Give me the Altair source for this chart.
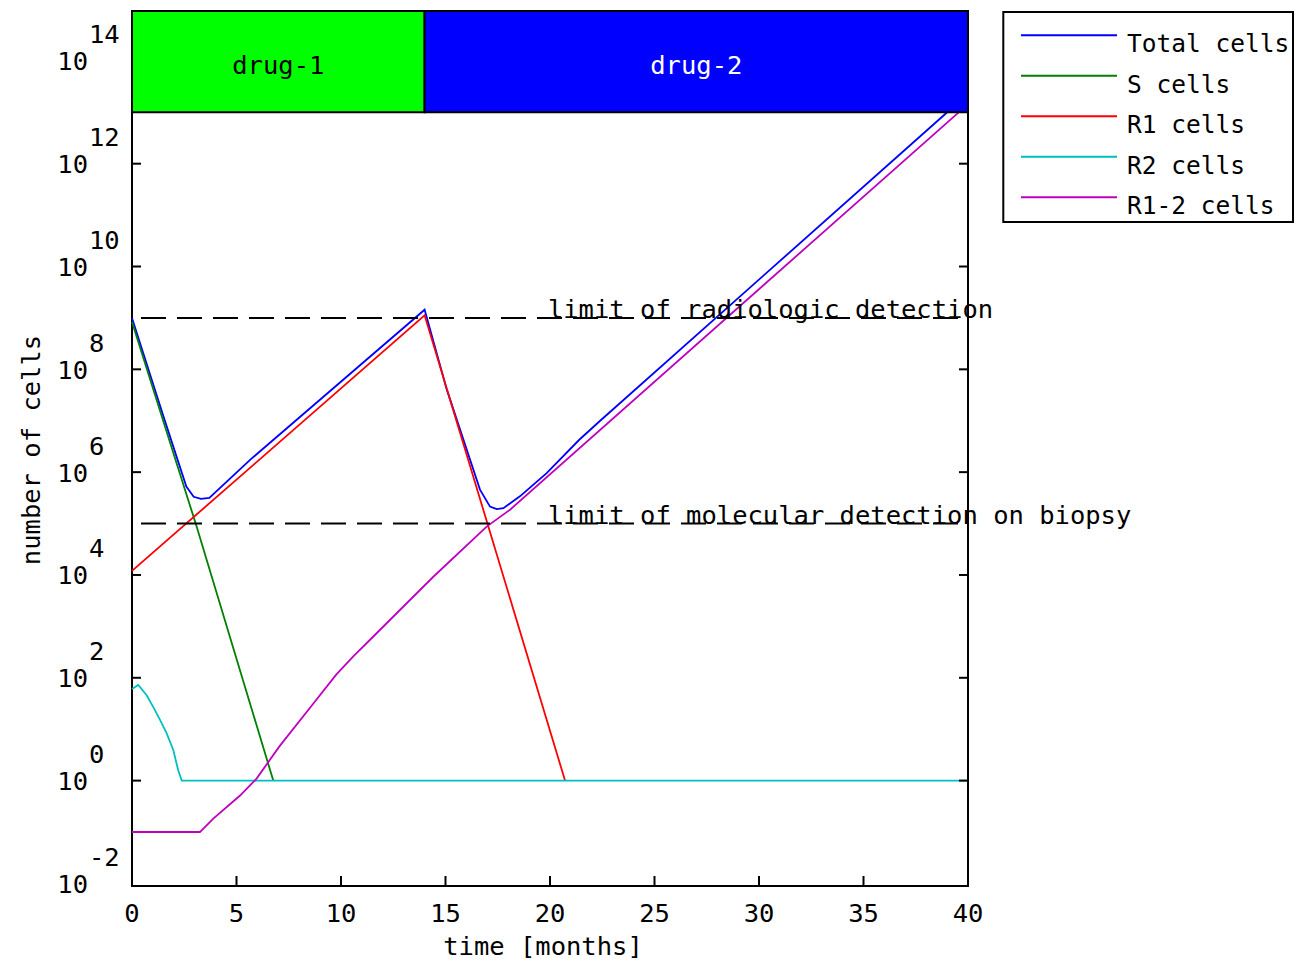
import altair as alt
import pandas as pd

FONT = "DejaVu Sans Mono"
FS = 25.5
FS_LEG = 24.5

series_names = ["Total cells", "S cells", "R1 cells", "R2 cells", "R1-2 cells"]
series_colors = ["#0000ff", "#008000", "#ff0000", "#00bfbf", "#bf00bf"]

# time [months] and log10(number of cells)
total_t = [0, 1.5, 2.6, 2.95, 3.3, 3.7, 5.65, 14.0, 15.06, 16.65, 17.13, 17.45, 17.77, 18.56, 19.84, 21.4, 22.4, 38.98, 40]
total_e = [9.0, 7.09, 5.72, 5.52, 5.48, 5.5, 6.24, 9.16, 7.61, 5.66, 5.33, 5.28, 5.30, 5.53, 5.98, 6.63, 7.0, 12.99, 13.36]
s_t = [0, 3.07, 6.76]
s_e = [8.92, 4.97, 0.0]
r1_t = [0, 14.0, 20.72]
r1_e = [4.08, 9.05, 0.0]
r2_t = [0, 0.3, 0.7, 1.02, 1.34, 1.66, 1.98, 2.21, 2.38, 40]
r2_e = [1.78, 1.86, 1.66, 1.43, 1.18, 0.92, 0.59, 0.2, 0.0, 0.0]
r12_t = [0, 3.25, 3.89, 5.17, 5.96, 7.08, 8.68, 9.77, 10.6, 11.39, 14.43, 16.97, 18.09, 40]
r12_e = [-1.0, -1.0, -0.74, -0.29, 0.04, 0.68, 1.5, 2.06, 2.42, 2.74, 3.97, 4.94, 5.27, 13.16]

limit_labels = ["limit of radiologic detection", "limit of molecular detection on biopsy"]
limit_e = [9, 5]

drug_names = ["drug-1", "drug-2"]
drug_start = [0, 14]
drug_end = [14, 40]
drug_colors = ["#00ff00", "#0000ff"]

y_label_exps = [-2, 0, 2, 4, 6, 8, 10, 12, 14]
y_tick_exps = [0, 2, 4, 6, 8, 10, 12]
x_ticks = [0, 5, 10, 15, 20, 25, 30, 35, 40]
x_title = "time [months]"
y_title = "number of cells"

rows = []
for name, ts, es in zip(series_names,
                        [total_t, s_t, r1_t, r2_t, r12_t],
                        [total_e, s_e, r1_e, r2_e, r12_e]):
    for i, (t, e) in enumerate(zip(ts, es)):
        rows.append({"series": name, "t": t, "cells": 10.0 ** e, "idx": i})
lines_df = pd.DataFrame(rows)

limits_df = pd.DataFrame({"label": limit_labels, "cells": [10.0 ** e for e in limit_e]})
drugs_df = pd.DataFrame({"drug": drug_names, "start": drug_start, "end": drug_end})
yl_df = pd.DataFrame({"cells": [10.0 ** e for e in y_label_exps], "exp": [str(e) for e in y_label_exps]})
yt_df = pd.DataFrame({"cells": [10.0 ** e for e in y_tick_exps]})
xt_df = pd.DataFrame({"t": x_ticks, "lab": [str(v) for v in x_ticks]})
leg_df = pd.DataFrame({"series": series_names})
one_df = pd.DataFrame({"a": [0]})

xs = alt.Scale(domain=[0, 40], nice=False, zero=False)
ys = alt.Scale(type="log", domain=[10 ** -2.05, 10 ** 14.97], nice=False)
cs = alt.Scale(domain=series_names, range=series_colors)

W, H = 836, 875

lines = alt.Chart(lines_df).mark_line(strokeWidth=1.8).encode(
    x=alt.X("t:Q", scale=xs, axis=None),
    y=alt.Y("cells:Q", scale=ys, axis=None),
    color=alt.Color("series:N", scale=cs, legend=None),
    order="idx:Q",
)

limits = alt.Chart(limits_df).mark_rule(
    color="black", strokeWidth=2, strokeDash=[25, 11], strokeDashOffset=26
).encode(y=alt.Y("cells:Q", scale=ys, axis=None))

limit_text = alt.Chart(limits_df).mark_text(
    align="left", baseline="alphabetic", font=FONT, fontSize=FS, color="black"
).encode(x=alt.datum(19.9, scale=xs, axis=None), y=alt.Y("cells:Q", scale=ys, axis=None), text="label:N")

left_ticks = alt.Chart(yt_df).mark_rule(color="black", strokeWidth=2).encode(
    x=alt.value(0), x2=alt.value(9), y=alt.Y("cells:Q", scale=ys, axis=None))
right_ticks = alt.Chart(yt_df).mark_rule(color="black", strokeWidth=2).encode(
    x=alt.value(W - 9), x2=alt.value(W), y=alt.Y("cells:Q", scale=ys, axis=None))
bottom_ticks = alt.Chart(xt_df).mark_rule(color="black", strokeWidth=2).encode(
    x=alt.X("t:Q", scale=xs, axis=None), y=alt.value(H), y2=alt.value(H - 10))

xlab = alt.Chart(xt_df).mark_text(
    align="center", baseline="alphabetic", font=FONT, fontSize=FS, color="black"
).encode(x=alt.X("t:Q", scale=xs, axis=None), y=alt.value(H + 36), text="lab:N")

ylab_base = alt.Chart(yl_df).mark_text(
    align="right", baseline="alphabetic", dy=9.5, font=FONT, fontSize=FS, color="black"
).encode(x=alt.value(-44), y=alt.Y("cells:Q", scale=ys, axis=None), text=alt.value("10"))
ylab_exp = alt.Chart(yl_df).mark_text(
    align="left", baseline="alphabetic", dy=-17.5, font=FONT, fontSize=FS, color="black"
).encode(x=alt.value(-43), y=alt.Y("cells:Q", scale=ys, axis=None), text="exp:N")

xtitle = alt.Chart(one_df).mark_text(
    align="center", baseline="alphabetic", font=FONT, fontSize=FS, color="black"
).encode(x=alt.value(411), y=alt.value(H + 69), text=alt.value(x_title))
ytitle = alt.Chart(one_df).mark_text(
    align="center", baseline="alphabetic", angle=270, font=FONT, fontSize=FS, color="black"
).encode(x=alt.value(-92), y=alt.value(439), text=alt.value(y_title))

drug_rect = alt.Chart(drugs_df).mark_rect(stroke="black", strokeWidth=2).encode(
    x=alt.X("start:Q", scale=xs, axis=None), x2="end:Q",
    y=alt.datum(1e13, scale=ys, axis=None), y2=alt.value(0),
    fill=alt.Fill("drug:N", scale=alt.Scale(domain=drug_names, range=drug_colors), legend=None),
)
drug_text = alt.Chart(drugs_df).transform_calculate(
    mid="(datum.start + datum.end) / 2"
).mark_text(align="center", baseline="alphabetic", dy=13, font=FONT, fontSize=FS).encode(
    x=alt.X("mid:Q", scale=xs, axis=None), y=alt.datum(1e14, scale=ys, axis=None), text="drug:N",
    color=alt.when(alt.datum.drug == "drug-2").then(alt.value("white")).otherwise(alt.value("black")),
)

leg_box = alt.Chart(one_df).mark_rect(fill="white", stroke="black", strokeWidth=2).encode(
    x=alt.value(871.3), x2=alt.value(1161), y=alt.value(1), y2=alt.value(211))
leg_base = alt.Chart(leg_df).transform_window(
    row="row_number()"
).transform_calculate(ly="24.3 + (datum.row - 1) * 40.5")
leg_lines = leg_base.mark_rule(strokeWidth=2).encode(
    x=alt.value(889), x2=alt.value(985), y=alt.Y("ly:Q", scale=None, axis=None),
    color=alt.Color("series:N", scale=cs, legend=None))
leg_text = leg_base.mark_text(
    align="left", baseline="alphabetic", dy=17, font=FONT, fontSize=FS_LEG, color="black"
).encode(x=alt.value(995), y=alt.Y("ly:Q", scale=None, axis=None), text="series:N")

chart = alt.layer(
    lines, limits, limit_text, left_ticks, right_ticks, bottom_ticks, xlab,
    ylab_base, ylab_exp, xtitle, ytitle, drug_rect, drug_text, leg_box, leg_lines, leg_text,
).properties(
    width=W, height=H,
    autosize=alt.AutoSizeParams(type="none"),
    padding={"left": 124, "top": 3, "right": 326, "bottom": 79},
    background="white",
).configure_view(stroke="black", strokeWidth=2)

chart.save("out.html", embed_options={"renderer": "svg", "actions": False})
